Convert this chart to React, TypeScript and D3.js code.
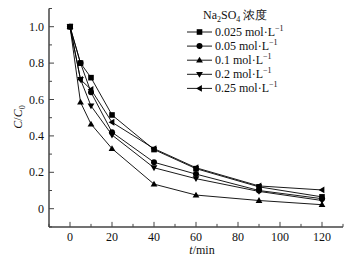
import React from "react";
import * as d3 from "d3";

const times = [0, 5, 10, 20, 40, 60, 90, 120];
const seriesNames = ["0.025", "0.05", "0.1", "0.2", "0.25"];
const s0025 = [1.0, 0.8, 0.72, 0.515, 0.325, 0.22, 0.12, 0.065];
const s005 = [1.0, 0.8, 0.64, 0.42, 0.255, 0.19, 0.1, 0.055];
const s01 = [1.0, 0.585, 0.465, 0.33, 0.135, 0.075, 0.045, 0.022];
const s02 = [1.0, 0.71, 0.565, 0.405, 0.225, 0.165, 0.095, 0.045];
const s025 = [1.0, 0.71, 0.655, 0.475, 0.33, 0.225, 0.125, 0.103];
const allSeries = [s0025, s005, s01, s02, s025];
const markerTypes = ["square", "circle", "up", "down", "left"];
const xTicks = [0, 20, 40, 60, 80, 100, 120];
const xMinor = [-10, 10, 30, 50, 70, 90, 110, 130];
const yTicks = [0, 0.2, 0.4, 0.6, 0.8, 1.0];
const yMinor = [-0.1, 0.1, 0.3, 0.5, 0.7, 0.9, 1.1];

const font = "'Liberation Serif', 'Times New Roman', serif";

function Marker({ type, x, y }: { type: string; x: number; y: number }) {
  const s = 2.8;
  if (type === "square") return <rect x={x - s} y={y - s} width={2 * s} height={2 * s} fill="#000" />;
  if (type === "circle") return <circle cx={x} cy={y} r={3} fill="#000" />;
  const t = 3.4;
  let pts = "";
  if (type === "up") pts = `${x},${y - t} ${x - t},${y + t * 0.7} ${x + t},${y + t * 0.7}`;
  if (type === "down") pts = `${x},${y + t} ${x - t},${y - t * 0.7} ${x + t},${y - t * 0.7}`;
  if (type === "left") pts = `${x - t},${y} ${x + t * 0.7},${y - t} ${x + t * 0.7},${y + t}`;
  return <polygon points={pts} fill="#000" />;
}

export default function App() {
  const W = 359, H = 263;
  const x = d3.scaleLinear().domain([-10, 130]).range([49, 343]);
  const y = d3.scaleLinear().domain([-0.1, 1.1]).range([226.9, 8.5]);
  const line = d3.line<number>().x((_, i) => x(times[i])).y((d) => y(d));
  const axisColor = "#444";
  return (
    <svg width={W} height={H} style={{ position: "absolute", left: 0, top: 0 }} fontFamily={font}>
      {/* axes */}
      <line x1={x(-10)} x2={x(130)} y1={y(-0.1)} y2={y(-0.1)} stroke={axisColor} strokeWidth={1.5} />
      <line x1={x(-10)} x2={x(-10)} y1={y(-0.1)} y2={y(1.1)} stroke={axisColor} strokeWidth={1.5} />
      {xTicks.map((t) => (
        <g key={"xt" + t}>
          <line x1={x(t)} x2={x(t)} y1={y(-0.1)} y2={y(-0.1) - 5} stroke={axisColor} strokeWidth={1} />
          <text x={x(t)} y={241} fontSize={12} textAnchor="middle" fill="#111">{t}</text>
        </g>
      ))}
      {xMinor.map((t) => (
        <line key={"xm" + t} x1={x(t)} x2={x(t)} y1={y(-0.1)} y2={y(-0.1) - 3} stroke={axisColor} strokeWidth={1} />
      ))}
      {yTicks.map((t) => (
        <g key={"yt" + t}>
          <line x1={x(-10)} x2={x(-10) + 5} y1={y(t)} y2={y(t)} stroke={axisColor} strokeWidth={1} />
          <text x={44} y={y(t) + 4} fontSize={12} textAnchor="end" fill="#111">{t === 0 ? "0" : t.toFixed(1)}</text>
        </g>
      ))}
      {yMinor.map((t) => (
        <line key={"ym" + t} x1={x(-10)} x2={x(-10) + 3} y1={y(t)} y2={y(t)} stroke={axisColor} strokeWidth={1} />
      ))}
      {/* axis labels */}
      <text transform={`translate(22,117) rotate(-90)`} fontSize={12} textAnchor="middle" fill="#111">
        <tspan fontStyle="italic">C</tspan>/<tspan fontStyle="italic">C</tspan>
        <tspan fontSize={8} dy={3}>0</tspan>
      </text>
      <text x={202} y={254} fontSize={12} textAnchor="middle" fill="#111">
        <tspan fontStyle="italic">t</tspan>/min
      </text>
      {/* series */}
      {allSeries.map((s, k) => (
        <g key={"s" + k}>
          <path d={line(s) || ""} fill="none" stroke="#000" strokeWidth={0.9} />
          {s.map((v, i) => (
            <Marker key={i} type={markerTypes[k]} x={x(times[i])} y={y(v)} />
          ))}
        </g>
      ))}
      {/* legend */}
      <text x={203} y={19} fontSize={12} fill="#111">
        Na<tspan fontSize={8} dy={3}>2</tspan><tspan dy={-3}>SO</tspan><tspan fontSize={8} dy={3}>4</tspan>
        <tspan dy={-3}> 浓度</tspan>
      </text>
      {seriesNames.map((n, k) => {
        const ly = 32 + k * 14.1;
        return (
          <g key={"lg" + k}>
            <line x1={187} x2={212} y1={ly} y2={ly} stroke="#000" strokeWidth={0.9} />
            <Marker type={markerTypes[k]} x={199.5} y={ly} />
            <text x={215} y={ly + 4} fontSize={12} fill="#111">
              {n} mol·L<tspan fontSize={8} dy={-5}>−1</tspan>
            </text>
          </g>
        );
      })}
    </svg>
  );
}
